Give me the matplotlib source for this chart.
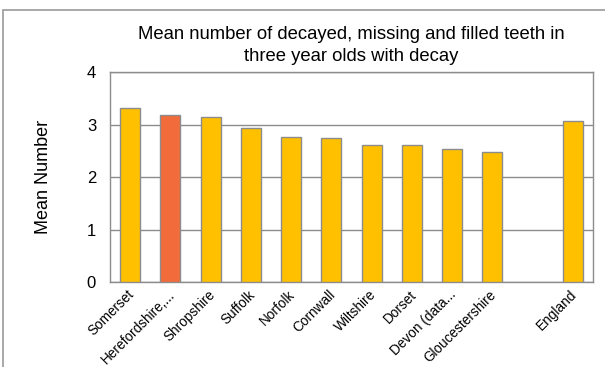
import numpy as np
from matplotlib import pyplot as plt
from matplotlib.patches import Rectangle
from matplotlib.transforms import ScaledTranslation

plt.rcParams['font.family'] = ['Liberation Sans', 'DejaVu Sans']

areas = ['Somerset', 'Herefordshire,...', 'Shropshire', 'Suffolk', 'Norfolk',
         'Cornwall', 'Wiltshire', 'Dorset', 'Devon (data...', 'Gloucestershire',
         '', 'England']
mean_dmft = [3.32, 3.18, 3.15, 2.93, 2.76, 2.74, 2.62, 2.62, 2.54, 2.49,
             np.nan, 3.08]
highlight = 'Herefordshire,...'

colors = ['#F26B3A' if a == highlight else '#FFC000' for a in areas]

fig = plt.figure(figsize=(6.05, 3.67), dpi=100)
# outer chart frame
fig.patches.append(Rectangle((3 / 605, -0.1), 1.2, 1 - 10 / 367 + 0.1,
                             transform=fig.transFigure, fill=False,
                             edgecolor='#9a9a9a', linewidth=1.2))

ax = fig.add_axes([110 / 605, 1 - 282 / 367, 483 / 605, 209.6 / 367])
x = np.arange(len(areas))
ax.bar(x, mean_dmft, width=0.5, color=colors, edgecolor='#8c8c8c',
       linewidth=1, zorder=3)

ax.set_xlim(-0.5, len(areas) - 0.5)
ax.set_ylim(0, 4)
ax.set_yticks([0, 1, 2, 3, 4])
ax.yaxis.grid(True, color='#8c8c8c', linewidth=1, zorder=0)
ax.set_xticks(x)
ax.set_xticklabels(areas, rotation=45, ha='right', va='center',
                   rotation_mode='anchor', fontsize=9.8)
ax.tick_params(axis='both', length=0)
ax.tick_params(axis='y', labelsize=12, pad=10)
ax.tick_params(axis='x', pad=7.5)
shift = ScaledTranslation(2 / 100, 0, fig.dpi_scale_trans)
for lab in ax.get_xticklabels():
    lab.set_transform(lab.get_transform() + shift)
for s in ax.spines.values():
    s.set_color('#8c8c8c')
    s.set_linewidth(1)

ax.set_ylabel('Mean Number', fontsize=13, labelpad=25)
fig.text(351 / 605, 1 - 45.5 / 367,
         'Mean number of decayed, missing and filled teeth in\nthree year olds with decay',
         ha='center', va='center', fontsize=13.3, linespacing=1.4)

fig.savefig('out.png', dpi=100)
